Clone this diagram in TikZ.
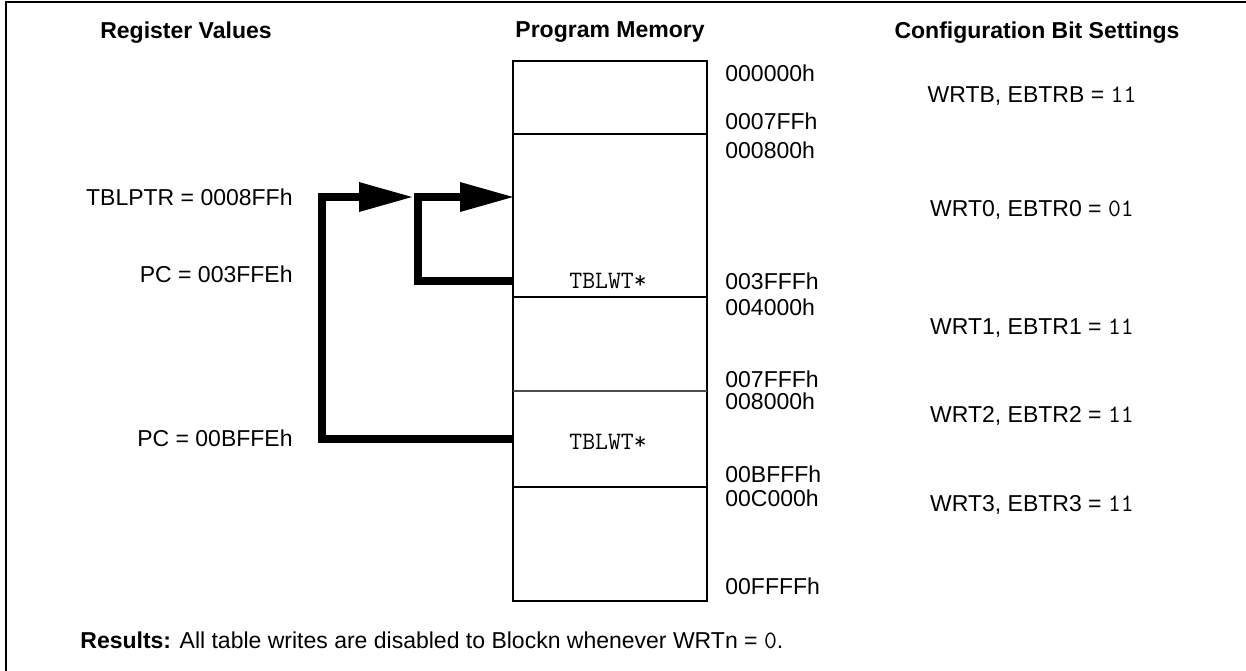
\documentclass[tikz,border=0pt]{standalone}
\usepackage{fontspec}
\setmainfont{Liberation Sans}
\usetikzlibrary{arrows.meta,positioning}
\newcommand{\codetxt}[1]{{\fontsize{12.5}{14}\selectfont\ttfamily #1}}
\tikzset{
  >={Triangle[length=26.5pt,width=15pt,line width=0pt]},
  lbl/.style={font=\fontsize{11.5}{13}\selectfont,inner sep=0pt,text depth=0pt},
  head/.style={lbl,font=\fontsize{11.5}{13}\selectfont\bfseries},
  addr/.style={lbl,anchor=west},
  reg/.style={lbl,anchor=east},
  instr/.style={lbl,font=\fontsize{12.5}{14}\selectfont\ttfamily},
  blk/.style={minimum width=97pt,minimum height=#1,inner sep=0pt,outer sep=0pt},
  wall/.style={line width=1pt},
  jump/.style={line width=4pt},
}
\begin{document}
\begin{tikzpicture}[x=0.5pt,y=-0.5pt]
  \useasboundingbox (0,0) rectangle (1246,670);
  \draw[wall] (6,680) -- (6,2) -- (1260,2);
  % column heads
  \node[head] (hreg) at (186,30) {Register Values};
  \node[head] (hmem) at (610,30) {Program Memory};
  \node[head] (hcfg) at (1037,30) {Configuration Bit Settings};
  % memory blocks
  \node[blk=36.5pt,anchor=north] (blkB) at (610,61) {};
  \node[blk=81.5pt,below=0pt of blkB] (blk0) {};
  \node[blk=47pt,below=0pt of blk0] (blk1) {};
  \node[blk=48pt,below=0pt of blk1] (blk2) {};
  \node[blk=57pt,below=0pt of blk2] (blk3) {};
  \draw[wall] (blkB.north west) rectangle (blk3.south east);
  \foreach \b in {blk0,blk1,blk3}
    \draw[wall] (\b.north west) -- (\b.north east);
  \draw[line width=0.6pt,black!70] (blk2.north west) -- (blk2.north east);
  \node[instr] (tbl0) at (608,281) {TBLWT*};
  \node[instr] (tbl2) at (608,442) {TBLWT*};
  \foreach \a/\y in {000000h/73,0007FFh/121,000800h/150,003FFFh/281,004000h/307,
      007FFFh/379,008000h/401,00BFFFh/474,00C000h/498,00FFFFh/586}
    \node[addr] (adr\a) at (725,\y) {\a};
  % registers
  \node[reg] (tblptr) at (293,197) {TBLPTR = 0008FFh};
  \node[reg] (pc0) at (293,274) {PC = 003FFEh};
  \node[reg] (pc2) at (293,438) {PC = 00BFFEh};
  \coordinate (outer) at (322,197);
  \coordinate (inner) at (418,197);
  \draw[jump,->] (blk2.west) -| (outer) -- ([xshift=-3pt]inner);
  \draw[jump,->] (tbl0 -| blk0.west) -| (inner) -- (inner -| blk0.west);
  % config bits
  \foreach \n/\v/\y in {B/11/95,0/01/208,1/11/327,2/11/414,3/11/503}
    \node[lbl] (cfg\n) at (1032,\y) {WRT\n, EBTR\n{} = \codetxt{\v}};
  \node[addr] (res) at (80,640) {\textbf{Results:} All table writes are disabled to Blockn whenever WRTn = \codetxt{0}.};
\end{tikzpicture}
\end{document}
